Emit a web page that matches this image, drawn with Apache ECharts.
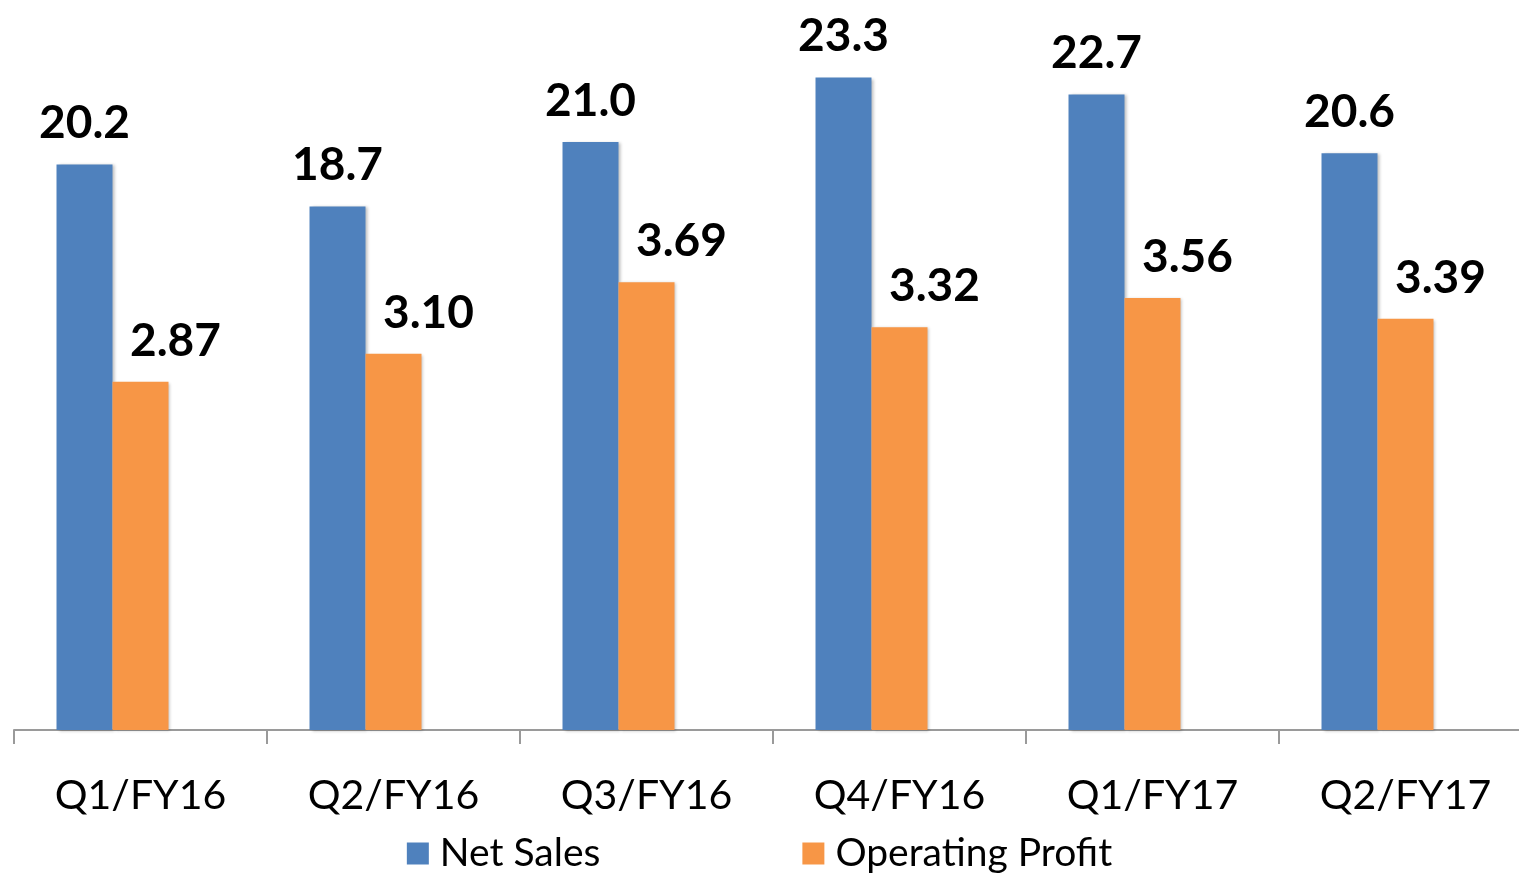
<!DOCTYPE html>
<html>
<head>
<meta charset="utf-8">
<script src="https://cdn.jsdelivr.net/npm/echarts@6/dist/echarts.min.js"></script>
<style>
    html, body { margin: 0; padding: 0; background: #fff; }
    #chart { width: 1519px; height: 878px; }
</style>
</head>
<body>
<div id="chart"></div>
<script>
// 数据
var categories = ['Q1/FY16', 'Q2/FY16', 'Q3/FY16', 'Q4/FY16', 'Q1/FY17', 'Q2/FY17'];
var netSales = [20.2, 18.7, 21.0, 23.3, 22.7, 20.6];
var operatingProfit = [2.87, 3.10, 3.69, 3.32, 3.56, 3.39];
// empty third slot, as in the original sheet
var emptySlot = ['-', '-', '-', '-', '-', '-'];

var font = 'Lato, "Open Sans", sans-serif';

var barShadow = {
    shadowColor: 'rgba(0,0,0,0.25)',
    shadowBlur: 3,
    shadowOffsetX: 2,
    shadowOffsetY: 1
};

function $extend(a, b) {
    for (var k in b) {
        a[k] = b[k];
    }
    return a;
}

var options = {
    animation: false,
    grid: {
        left: 14,
        width: 1518,
        top: 2,
        bottom: 148,
        outerBoundsMode: 'none'
    },
    legend: {
        data: ['Net Sales', 'Operating Profit'],
        bottom: 0,
        left: 'center',
        icon: 'rect',
        itemWidth: 22,
        itemHeight: 22,
        itemGap: 202,
        textStyle: {
            fontFamily: font,
            fontSize: 39,
            color: '#000',
            padding: [0, 0, 0, 6]
        }
    },
    xAxis: [{
        type: 'category',
        data: categories,
        axisLine: {
            lineStyle: { color: '#9a9a9a', width: 2 }
        },
        axisTick: {
            show: true,
            length: 14,
            lineStyle: { color: '#9a9a9a', width: 2 }
        },
        axisLabel: {
            fontFamily: font,
            fontSize: 41,
            color: '#000',
            margin: 45
        },
        splitLine: { show: false }
    }],
    yAxis: [{
        type: 'value',
        min: 0,
        max: 26,
        show: false,
        splitLine: { show: false }
    }, {
        type: 'value',
        min: 0,
        max: 6,
        show: false,
        splitLine: { show: false }
    }],
    series: [{
        name: 'Net Sales',
        type: 'bar',
        yAxisIndex: 0,
        barGap: '0%',
        barCategoryGap: '33.6%',
        itemStyle: $extend({ color: '#4F81BD' }, barShadow),
        label: {
            show: true,
            position: 'top',
            distance: 18,
            formatter: function (p) { return p.value.toFixed(1); },
            fontFamily: font,
            fontWeight: 'bold',
            fontSize: 46,
            color: '#000'
        },
        data: netSales
    }, {
        name: 'Operating Profit',
        type: 'bar',
        yAxisIndex: 1,
        itemStyle: $extend({ color: '#F79646' }, barShadow),
        label: {
            show: true,
            position: 'top',
            distance: 18,
            offset: [35, 0],
            formatter: function (p) { return p.value.toFixed(2); },
            fontFamily: font,
            fontWeight: 'bold',
            fontSize: 46,
            color: '#000'
        },
        data: operatingProfit
    }, {
        name: 'spacer',
        type: 'bar',
        yAxisIndex: 0,
        data: emptySlot
    }]
};

var chart = echarts.init(document.getElementById('chart'));
chart.setOption(options);
</script>
</body>
</html>
